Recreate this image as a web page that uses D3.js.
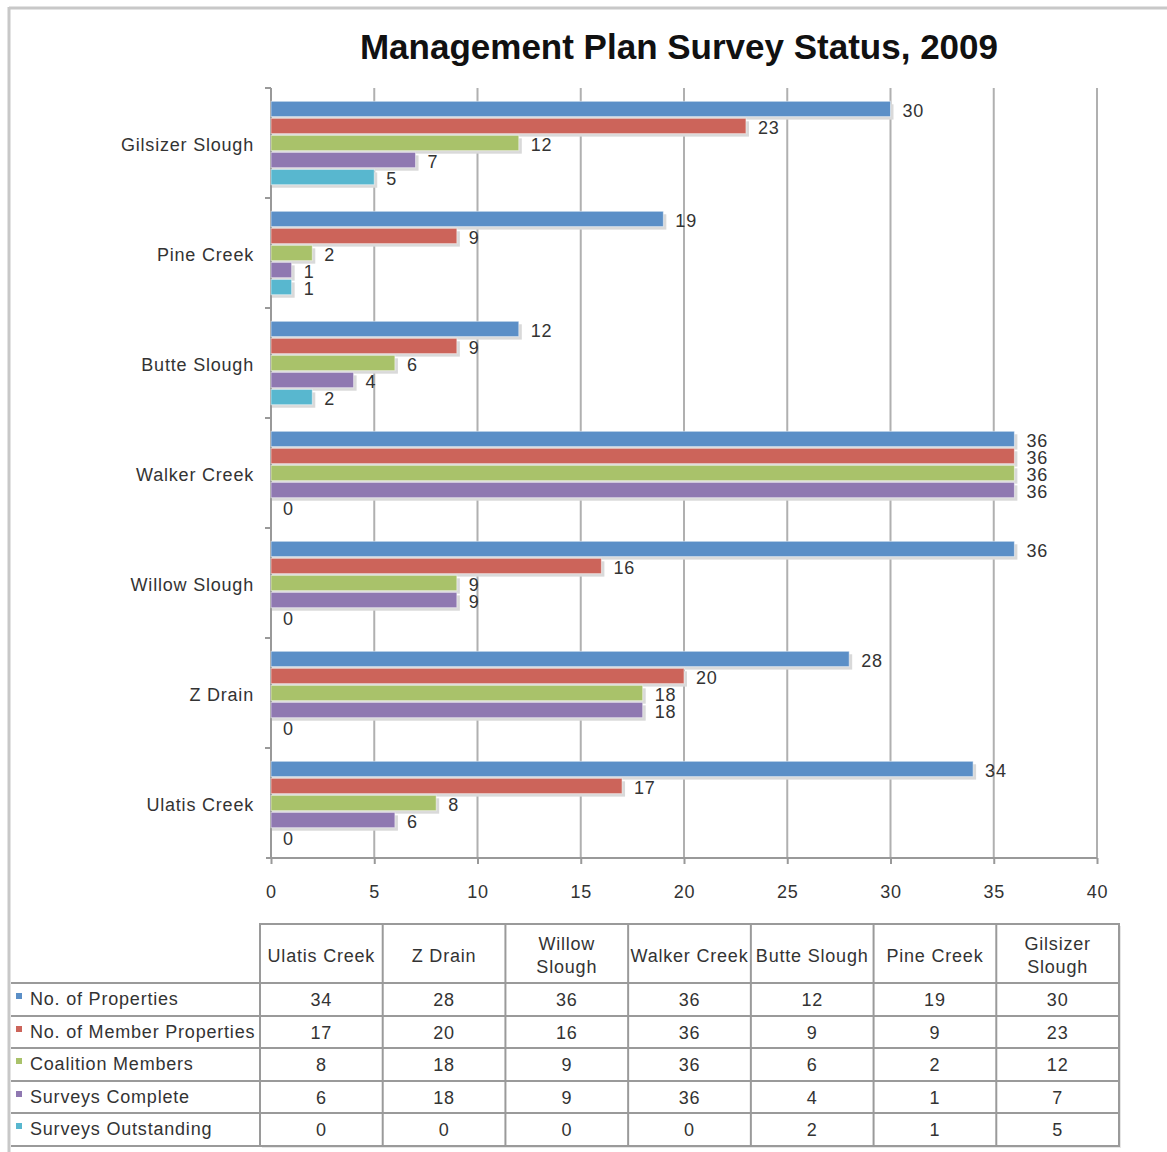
<!DOCTYPE html>
<html>
<head>
<meta charset="utf-8">
<script src="https://cdn.jsdelivr.net/npm/d3@7"></script>
<style>
  body { margin: 0; background: #fff; }
  text { font-family: "Liberation Sans", Arial, sans-serif; fill: #333; }
  .lbl { font-size: 18px; letter-spacing: 0.8px; }
</style>
</head>
<body>
<svg id="chart" width="1167" height="1152"></svg>
<script>
// table order (left to right); chart draws them bottom to top
const categories = ["Ulatis Creek", "Z Drain", "Willow Slough", "Walker Creek", "Butte Slough", "Pine Creek", "Gilsizer Slough"]
const seriesNames = ["No. of Properties", "No. of Member Properties", "Coalition Members", "Surveys Complete", "Surveys Outstanding"]
const properties = [34, 28, 36, 36, 12, 19, 30]
const memberProperties = [17, 20, 16, 36, 9, 9, 23]
const coalitionMembers = [8, 18, 9, 36, 6, 2, 12]
const surveysComplete = [6, 18, 9, 36, 4, 1, 7]
const surveysOutstanding = [0, 0, 0, 0, 2, 1, 5]
const xTicks = [0, 5, 10, 15, 20, 25, 30, 35, 40]
const colors = ["#5b8fc7", "#cc645a", "#a9c26a", "#8f78b1", "#58b7cf"]

const seriesValues = [properties, memberProperties, coalitionMembers, surveysComplete, surveysOutstanding]

const svg = d3.select("#chart")

// outer frame
svg.append("line").attr("x1", 9).attr("x2", 1167).attr("y1", 8).attr("y2", 8)
    .attr("stroke", "#c8c8c8").attr("stroke-width", 3)
svg.append("line").attr("x1", 9).attr("x2", 9).attr("y1", 7).attr("y2", 1152)
    .attr("stroke", "#c8c8c8").attr("stroke-width", 3)

svg.append("text")
    .attr("x", 679).attr("y", 59)
    .attr("text-anchor", "middle")
    .style("font-size", "35px").style("font-weight", "bold").style("fill", "#111")
    .text("Management Plan Survey Status, 2009")

const x = d3.scaleLinear().domain([0, 40]).range([271, 1097])
const y = d3.scaleBand().domain(categories.slice().reverse()).range([88, 858])
const ySub = d3.scaleBand().domain(seriesNames).range([0, y.bandwidth()])
    .paddingInner(0.1).paddingOuter(0.78)

// grid
svg.append("g").selectAll("line")
    .data(xTicks.slice(1))
    .join("line")
    .attr("x1", d => x(d)).attr("x2", d => x(d))
    .attr("y1", 88).attr("y2", 858)
    .attr("stroke", "#b0b0b0").attr("stroke-width", 2)

// axes
const xAxis = svg.append("g").attr("transform", "translate(0,858)")
    .call(d3.axisBottom(x).tickValues(xTicks).tickSize(6).tickPadding(21))
xAxis.select(".domain").attr("stroke", "#999").attr("stroke-width", 2).attr("d", "M266,0H1097")
xAxis.selectAll(".tick line").attr("stroke", "#999").attr("stroke-width", 2)
xAxis.selectAll("text").attr("class", "lbl").attr("fill", "#333")

const yAxis = svg.append("g").attr("transform", "translate(271,0)")
    .call(d3.axisLeft(y).tickSize(0).tickPadding(17))
yAxis.select(".domain").attr("stroke", "#999").attr("stroke-width", 2).attr("d", "M0,88V858")
yAxis.selectAll("text").attr("class", "lbl").attr("dy", "0.45em").attr("fill", "#333")
yAxis.attr("font-size", null).attr("font-family", null)
xAxis.attr("font-size", null).attr("font-family", null)
svg.append("g").selectAll("line")
    .data(categories)
    .join("line")
    .attr("x1", 265).attr("x2", 271)
    .attr("y1", d => y(d)).attr("y2", d => y(d))
    .attr("stroke", "#999").attr("stroke-width", 2)

// bars
const rows = []
categories.forEach((c, ci) => {
    seriesNames.forEach((s, si) => {
        rows.push({ cat: c, series: s, si: si, value: seriesValues[si][ci] })
    })
})

const bars = svg.append("g")
bars.selectAll("rect.shadow")
    .data(rows.filter(d => d.value > 0))
    .join("rect")
    .attr("class", "shadow")
    .attr("x", x(0) + 1)
    .attr("y", d => y(d.cat) + ySub(d.series) + 3)
    .attr("width", d => x(d.value) - x(0) + 2)
    .attr("height", ySub.bandwidth())
    .attr("fill", "#d9d9d9")

bars.selectAll("rect.bar")
    .data(rows.filter(d => d.value > 0))
    .join("rect")
    .attr("class", "bar")
    .attr("x", x(0))
    .attr("y", d => y(d.cat) + ySub(d.series))
    .attr("width", d => x(d.value) - x(0))
    .attr("height", ySub.bandwidth())
    .attr("fill", d => colors[d.si])
    .attr("stroke", "#fff").attr("stroke-opacity", 0.5).attr("stroke-width", 1)

svg.append("g").selectAll("text")
    .data(rows)
    .join("text")
    .attr("class", "lbl")
    .attr("x", d => x(d.value) + 12)
    .attr("y", d => y(d.cat) + ySub(d.series) + ySub.bandwidth() / 2 + 8)
    .text(d => d.value)

// data table
const colX = d3.scaleBand().domain(categories).range([260, 1119])
const rowTops = [983, 1016, 1048, 1081, 1113]
const rowH = 32.5
const table = svg.append("g")

table.append("rect")
    .attr("x", 262).attr("y", 926).attr("width", 859).attr("height", 222)
    .attr("fill", "#e6e6e6")
const grid = table.append("g").attr("stroke", "#9a9a9a").attr("stroke-width", 2)
grid.append("rect").attr("x", 260).attr("y", 924).attr("width", 859).attr("height", 222).attr("fill", "#fff")
grid.selectAll("line.row")
    .data(rowTops.concat([1146]))
    .join("line")
    .attr("class", "row")
    .attr("x1", 11).attr("x2", 1119)
    .attr("y1", d => d).attr("y2", d => d)
grid.selectAll("line.col")
    .data(categories.slice(1))
    .join("line")
    .attr("class", "col")
    .attr("x1", d => colX(d)).attr("x2", d => colX(d))
    .attr("y1", 924).attr("y2", 1146)

// header
table.selectAll("text.head")
    .data(categories)
    .join("text")
    .attr("class", "lbl")
    .attr("text-anchor", "middle")
    .attr("x", d => colX(d) + colX.bandwidth() / 2)
    .attr("y", 962)
    .each(function (d) {
        const t = d3.select(this)
        const w = d.split(" ")
        if (d === "Willow Slough" || d === "Gilsizer Slough") {
            t.append("tspan").attr("x", colX(d) + colX.bandwidth() / 2).attr("y", 950).text(w[0])
            t.append("tspan").attr("x", colX(d) + colX.bandwidth() / 2).attr("y", 973).text(w[1])
        } else {
            t.text(d)
        }
    })

// legend column
seriesNames.forEach((s, si) => {
    table.append("rect")
        .attr("x", 16).attr("y", rowTops[si] + 10)
        .attr("width", 6).attr("height", 6)
        .attr("fill", colors[si])
    table.append("text")
        .attr("class", "lbl")
        .attr("x", 30).attr("y", rowTops[si] + rowH / 2 + 6)
        .text(s)
    table.append("g").selectAll("text")
        .data(categories)
        .join("text")
        .attr("class", "lbl")
        .attr("text-anchor", "middle")
        .attr("x", d => colX(d) + colX.bandwidth() / 2)
        .attr("y", rowTops[si] + rowH / 2 + 7)
        .text((d, ci) => seriesValues[si][ci])
})
</script>
</body>
</html>
